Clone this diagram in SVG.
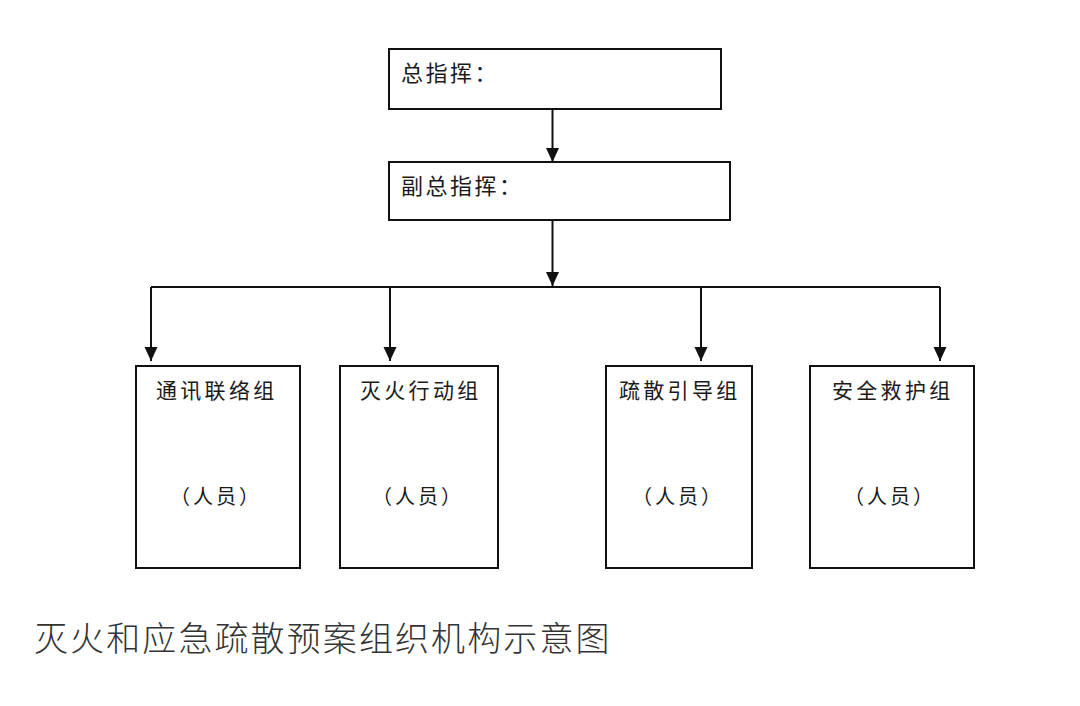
<svg xmlns="http://www.w3.org/2000/svg" width="1080" height="706" viewBox="0 0 1080 706">
<style>
  .box{fill:#fff;stroke:#111;stroke-width:2}
  .conn{fill:none;stroke:#111;stroke-width:2}
  .t{font-family:"Noto Sans CJK SC","Noto Sans",sans-serif;fill:#1a1a1a}
  .top{font-size:22px;letter-spacing:2.5px}
  .grp{font-size:21px;letter-spacing:3.3px}
  .ppl{font-size:20px;letter-spacing:3px}
  .cap{font-family:"Noto Sans CJK SC","Noto Sans",sans-serif;font-size:34px;font-weight:300;letter-spacing:2.1px;fill:#333}
</style>
<defs>
  <marker id="arr" viewBox="0 0 14 14" refX="14" refY="7" markerWidth="14" markerHeight="14" markerUnits="userSpaceOnUse" orient="auto">
    <path d="M0,0.5 L14,7 L0,13.5 z" fill="#111"/>
  </marker>
</defs>
<rect width="1080" height="706" fill="#fff"/>
<g id="connectors">
  <line class="conn" x1="552.5" y1="109" x2="552.5" y2="162" marker-end="url(#arr)"/>
  <line class="conn" x1="552.5" y1="220" x2="552.5" y2="286" marker-end="url(#arr)"/>
  <path class="conn" d="M151,287 H940"/>
  <line class="conn" x1="151" y1="287" x2="151" y2="361" marker-end="url(#arr)"/>
  <line class="conn" x1="390" y1="287" x2="390" y2="361" marker-end="url(#arr)"/>
  <line class="conn" x1="701" y1="287" x2="701" y2="361" marker-end="url(#arr)"/>
  <line class="conn" x1="940" y1="287" x2="940" y2="361" marker-end="url(#arr)"/>
</g>
<g id="node-chief">
  <rect class="box" x="389" y="49" width="332" height="60"/>
  <text class="t top" x="401" y="81">总指挥：</text>
</g>
<g id="node-deputy">
  <rect class="box" x="389" y="162" width="341" height="58"/>
  <text class="t top" x="401" y="194">副总指挥：</text>
</g>
<g id="node-comm">
  <rect class="box" x="136" y="366" width="164" height="202"/>
  <text class="t grp" x="156" y="398">通讯联络组</text>
  <text class="t ppl" x="170" y="504">（人员）</text>
</g>
<g id="node-fire">
  <rect class="box" x="340" y="366" width="158" height="202"/>
  <text class="t grp" x="360" y="398">灭火行动组</text>
  <text class="t ppl" x="372" y="504">（人员）</text>
</g>
<g id="node-evac">
  <rect class="box" x="606" y="366" width="146" height="202"/>
  <text class="t grp" x="619" y="398">疏散引导组</text>
  <text class="t ppl" x="632" y="504">（人员）</text>
</g>
<g id="node-rescue">
  <rect class="box" x="810" y="366" width="164" height="202"/>
  <text class="t grp" x="832" y="398">安全救护组</text>
  <text class="t ppl" x="844" y="504">（人员）</text>
</g>
<text class="cap" x="34" y="651">灭火和应急疏散预案组织机构示意图</text>
</svg>
